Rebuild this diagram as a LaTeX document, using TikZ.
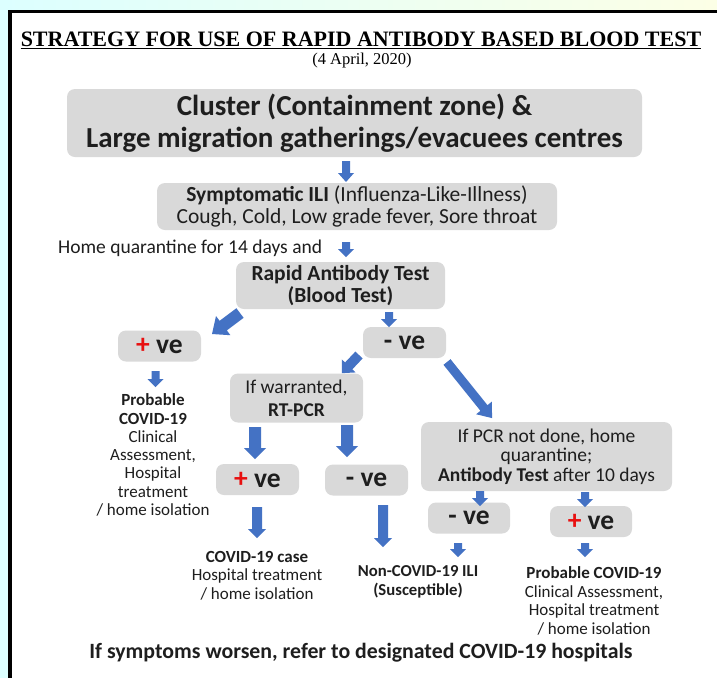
\documentclass[tikz,border=0pt]{standalone}
\usepackage{fontspec}
\usetikzlibrary{calc}
\setmainfont{Carlito}
\newfontfamily\titlefont{Liberation Serif}
\definecolor{boxgray}{HTML}{D9D9D9}
\definecolor{arrowblue}{HTML}{4472C4}
\definecolor{txt}{HTML}{1E1E1E}
\definecolor{plusred}{HTML}{E81010}
\definecolor{bgyellow}{HTML}{FCFFE6}
\definecolor{bgcyan}{HTML}{DCFFFF}
\newcommand\fs[2]{\fontsize{#1}{#2}\selectfont}
% tail x, tail y, angle, length, shaft width, head width, head length
\newcommand\barr[7]{%
  \fill[arrowblue, shift={(#1,#2)}, rotate=#3]
    (0,-#5/2) -- (#4-#7,-#5/2) -- (#4-#7,-#6/2) -- (#4,0) -- (#4-#7,#6/2) -- (#4-#7,#5/2) -- (0,#5/2) -- cycle;}
\tikzset{
  gbox/.style={fill=boxgray, rounded corners=8pt, inner sep=0pt, align=center, text=txt},
  vebox/.style={gbox, minimum width=83pt, minimum height=31pt, font=\bfseries\fs{27.5}{30}},
  plain/.style={inner sep=0pt, align=center, text=txt},
}
\begin{document}
\begin{tikzpicture}[x=1pt,y=-1pt]
\useasboundingbox (0,0) rectangle (717,678);
% background and frame
\shade[left color=bgcyan, right color=bgyellow] (0,0) rectangle (717,10);
\fill[bgcyan] (0,10) rectangle (8,678);
\fill[black] (8,10) rectangle (717,13);
\fill[black] (8,10) rectangle (12,678);
\fill[white] (12,13) rectangle (717,678);

% title
\node[anchor=base, inner sep=0pt, text=black, font=\titlefont\bfseries\fs{22}{24}] (title) at (361,46) {STRATEGY FOR USE OF RAPID ANTIBODY BASED BLOOD TEST};
\draw[line width=1pt] ($(title.base west)+(0,2)$) -- ($(title.base east)+(0,2)$);
\node[anchor=base, inner sep=0pt, text=black, font=\titlefont\fs{16.5}{18}] (date) at (362,64) {(4 April, 2020)};

% boxes
\node[gbox, minimum width=575pt, minimum height=68pt, font=\bfseries\fs{29}{32}] (cluster) at (354.5,123) {Cluster (Containment zone) \&\\Large migration gatherings/evacuees centres};
\node[gbox, minimum width=400pt, minimum height=47pt, font=\fs{21.5}{22}] (ili) at (357,206.5) {\textbf{Symptomatic ILI} (Influenza-Like-Illness)\\Cough, Cold, Low grade fever, Sore throat};
\node[plain, anchor=base west, font=\fs{19.5}{20}] (home) at (58,253) {Home quarantine for 14 days and};
\node[gbox, minimum width=209pt, minimum height=47pt, font=\bfseries\fs{21.5}{22}] (rat) at (340.5,285.5) {Rapid Antibody Test\\(Blood Test)};
\node[vebox] (pos1) at (159.5,346) {{\color{plusred}+} ve};
\node[vebox] (neg1) at (404.5,342.5) {- ve};
\node[gbox, minimum width=133pt, minimum height=49pt, font=\fs{19.5}{23}] (rtpcr) at (296.5,398) {If warranted,\\\textbf{RT-PCR}};
\node[vebox] (pos2) at (257.5,479.5) {{\color{plusred}+} ve};
\node[vebox] (neg2) at (366.5,480) {- ve};
\node[gbox, minimum width=251pt, minimum height=69pt, font=\fs{19.5}{19.5}] (pcrnot) at (546.5,456.5) {If PCR not done, home\\quarantine;\\\textbf{Antibody Test} after 10 days};
\node[vebox, minimum width=82pt] (neg3) at (469,518) {- ve};
\node[vebox, minimum width=82pt] (pos3) at (591,521.5) {{\color{plusred}+} ve};

% outcome texts
\node[plain, font=\fs{17}{18.3}] (out1) at (153,455) {\textbf{Probable}\\\textbf{COVID-19}\\Clinical\\Assessment,\\Hospital\\treatment\\/ home isolation};
\node[plain, font=\fs{17}{18.5}] (out2) at (257,575.5) {\textbf{COVID-19 case}\\Hospital treatment\\/ home isolation};
\node[plain, font=\bfseries\fs{16.7}{18.5}] (out3) at (418,582) {Non-COVID-19 ILI\\(Susceptible)};
\node[plain, font=\fs{17}{18.7}] (out4) at (594,601) {\textbf{Probable COVID-19}\\Clinical Assessment,\\Hospital treatment\\/ home isolation};
\node[plain, font=\bfseries\fs{21.8}{22}] (foot) at (361,653) {If symptoms worsen, refer to designated COVID-19 hospitals};

% block arrows
\barr{346}{161}{-90}{21}{8}{16}{9}
\barr{346}{242}{-90}{15}{8}{16}{8}
\barr{240}{313}{-143.1}{35}{12}{24}{14}
\barr{389}{312}{-90}{15}{8}{16}{8}
\barr{359}{355}{-133.4}{25}{10}{19}{10}
\barr{447}{362}{-51.2}{72}{9}{20}{13}
\barr{155.5}{371}{-90}{16}{8}{16}{8}
\barr{255}{427}{-90}{32}{12}{22}{11}
\barr{347}{425}{-90}{32}{12}{22}{11}
\barr{257}{507}{-90}{31}{10}{18}{9}
\barr{383}{505}{-90}{42}{10}{18}{9}
\barr{480}{491}{-90}{15}{8}{16}{8}
\barr{585}{492}{-90}{15}{8}{16}{8}
\barr{458}{543}{-90}{14}{8}{16}{8}
\barr{585}{543}{-90}{14}{8}{16}{8}
\end{tikzpicture}
\end{document}
